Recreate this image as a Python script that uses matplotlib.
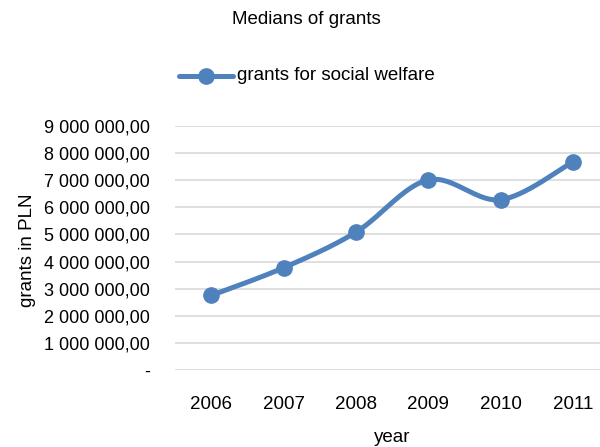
import numpy as np
import matplotlib.pyplot as plt
from matplotlib.ticker import FuncFormatter

plt.rcParams['font.family'] = ['Liberation Sans Narrow', 'Liberation Sans', 'DejaVu Sans']

years = ["2006", "2007", "2008", "2009", "2010", "2011"]
grants = [2750000, 3770000, 5080000, 7010000, 6280000, 7680000]

BLUE = "#4F81BD"


def smooth(xs, ys, n=40):
    # Excel-style smoothed line: Bezier segments with 1/6 tangent control points
    p = np.column_stack([xs, ys]).astype(float)
    pts = [p[0]]
    for i in range(len(p) - 1):
        p0 = p[i - 1] if i > 0 else p[i]
        p3 = p[i + 2] if i + 2 < len(p) else p[i + 1]
        c1 = p[i] + (p[i + 1] - p0) / 6
        c2 = p[i + 1] - (p3 - p[i]) / 6
        t = np.linspace(0, 1, n)[1:, None]
        seg = ((1 - t) ** 3) * p[i] + 3 * ((1 - t) ** 2) * t * c1 \
            + 3 * (1 - t) * t ** 2 * c2 + t ** 3 * p[i + 1]
        pts.extend(seg)
    pts = np.array(pts)
    return pts[:, 0], pts[:, 1]


def fmt(v, _pos):
    if v == 0:
        return "-"
    return f"{v:,.2f}".replace(",", " ").replace(".", ",")


fig = plt.figure(figsize=(6.0, 4.47), dpi=100)
ax = fig.add_axes([175 / 600, 1 - 370 / 447, 434 / 600, 244 / 447])

x = np.arange(len(years))
sx, sy = smooth(x, grants)
ax.plot(sx, sy, color=BLUE, lw=3.6, solid_capstyle="round", zorder=3)
ax.plot(x, grants, "o", color=BLUE, ms=11, zorder=4)

ax.set_xlim(-0.5, len(years) - 0.5)
ax.set_ylim(0, 9000000)
ax.set_yticks(np.arange(0, 9000001, 1000000))
ax.yaxis.set_major_formatter(FuncFormatter(fmt))
ax.set_xticks(x)
ax.set_xticklabels(years)
ax.grid(axis="y", color="#D9D9D9", lw=1.2)
ax.set_axisbelow(True)
for s in ax.spines.values():
    s.set_visible(False)
ax.tick_params(length=0, labelsize=13)
ax.tick_params(axis="y", pad=18)
ax.tick_params(axis="x", pad=19)
ax.tick_params(axis="x", labelsize=13.5)

fig.text(28 / 600, 1 - 250 / 447, "grants in PLN", rotation=90, fontsize=13.5,
         ha="center", va="center")
fig.text(392 / 600, 1 - 437 / 447, "year", fontsize=13.5, ha="center", va="center")
fig.text(306 / 600, 1 - 20 / 447, "Medians of grants", fontsize=13.5,
         ha="center", va="center")

# legend drawn by hand in figure coordinates
lx = np.array([179, 233]) / 600
ly = 1 - 76 / 447
fig.add_artist(plt.Line2D(lx, [ly, ly], color=BLUE, lw=3.6, solid_capstyle="round"))
fig.add_artist(plt.Line2D([206 / 600], [ly], marker="o", color=BLUE, ms=11))
fig.text(237 / 600, ly, "grants for social welfare", fontsize=13.5, ha="left", va="center")

fig.savefig("out.png", dpi=100)
